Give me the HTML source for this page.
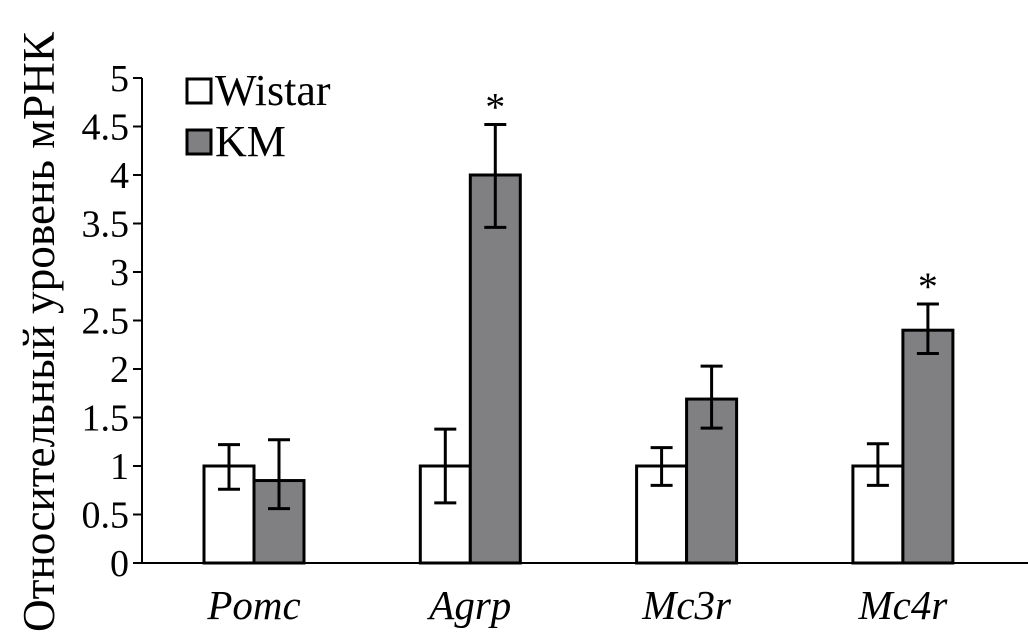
<!DOCTYPE html>
<html><head><meta charset="utf-8"><style>
html,body{margin:0;padding:0;background:#fff;}
svg{display:block;font-family:"Liberation Serif","DejaVu Serif",serif;}
</style></head><body>
<svg id="chart" width="1028" height="643" viewBox="0 0 1028 643">
<text transform="translate(54,332) rotate(-90)" text-anchor="middle" font-size="45" textLength="600" lengthAdjust="spacingAndGlyphs">Относительный уровень мРНК</text>
<g id="axes"></g>
<g id="bars"></g>
<g>
<rect x="187" y="79" width="24" height="24" fill="#fff" stroke="#000" stroke-width="3"/>
<text x="215" y="105" font-size="44">Wistar</text>
<rect x="187" y="130" width="24" height="24" fill="#808083" stroke="#000" stroke-width="3"/>
<text x="215" y="156" font-size="44">KM</text>
</g>
</svg>
<script>
const categories=["Pomc","Agrp","Mc3r","Mc4r"];
const wistarVals=[1,1,1,1];
const wistarLo=[0.76,0.62,0.8,0.8];
const wistarHi=[1.22,1.38,1.19,1.23];
const kmVals=[0.85,4,1.69,2.4];
const kmLo=[0.56,3.46,1.39,2.16];
const kmHi=[1.27,4.52,2.03,2.67];
const sig=[false,true,false,true];
const yTicks=[0,0.5,1,1.5,2,2.5,3,3.5,4,4.5,5];
const yTickLabels=["0","0.5","1","1.5","2","2.5","3","3.5","4","4.5","5"];

const NS="http://www.w3.org/2000/svg";
const y0=563,yTop=78,yMax=5;
const y=v=>y0-(v/yMax)*(y0-yTop);
const axisX=142;
const groupX=i=>254+i*216.3;
const bw=50;
function mk(tag,attrs,parent){const e=document.createElementNS(NS,tag);for(const k in attrs)e.setAttribute(k,attrs[k]);parent.appendChild(e);return e;}
const axes=document.getElementById('axes'),bars=document.getElementById('bars');
let e=mk('line',{x1:axisX,y1:y(5),x2:axisX,y2:y0,stroke:'#000','stroke-width':2},axes);


e=mk('line',{x1:axisX-1,y1:y0,x2:1028,y2:y0,stroke:'#000','stroke-width':2},axes);


yTicks.forEach((t,i)=>{
  let l=mk('line',{x1:axisX-9,y1:y(t),x2:axisX,y2:y(t),stroke:'#000','stroke-width':2},axes);
  
  
  let tx=mk('text',{x:axisX-13,y:y(t)+13,'text-anchor':'end','font-size':38},axes);
  tx.textContent=yTickLabels[i];
  
  
});
function errbar(cx,lo,hi){
  const g=mk('g',{stroke:'#000','stroke-width':3},bars);
  
  
  mk('line',{x1:cx,y1:y(lo),x2:cx,y2:y(hi)},g);
  mk('line',{x1:cx-11,y1:y(lo),x2:cx+11,y2:y(lo)},g);
  mk('line',{x1:cx-11,y1:y(hi),x2:cx+11,y2:y(hi)},g);
}
categories.forEach((c,i)=>{
  const cx=groupX(i);
  let r=mk('rect',{x:cx-bw,y:y(wistarVals[i]),width:bw,height:y0-y(wistarVals[i]),fill:'#fff',stroke:'#000','stroke-width':3},bars);
  
  
  r=mk('rect',{x:cx,y:y(kmVals[i]),width:bw,height:y0-y(kmVals[i]),fill:'#808083',stroke:'#000','stroke-width':3},bars);
  
  
  errbar(cx-bw/2,wistarLo[i],wistarHi[i]);
  errbar(cx+bw/2,kmLo[i],kmHi[i]);
  let t=mk('text',{x:cx,y:619,'text-anchor':'middle','font-size':41,'font-style':'italic'},bars);
  t.textContent=c;
  
  
  if(sig[i]){
    let s=mk('text',{x:cx+bw/2,y:y(kmHi[i])-4,'text-anchor':'middle','font-size':40},bars);
    s.textContent='*';
    
    
  }
});
</script>
</body></html>
